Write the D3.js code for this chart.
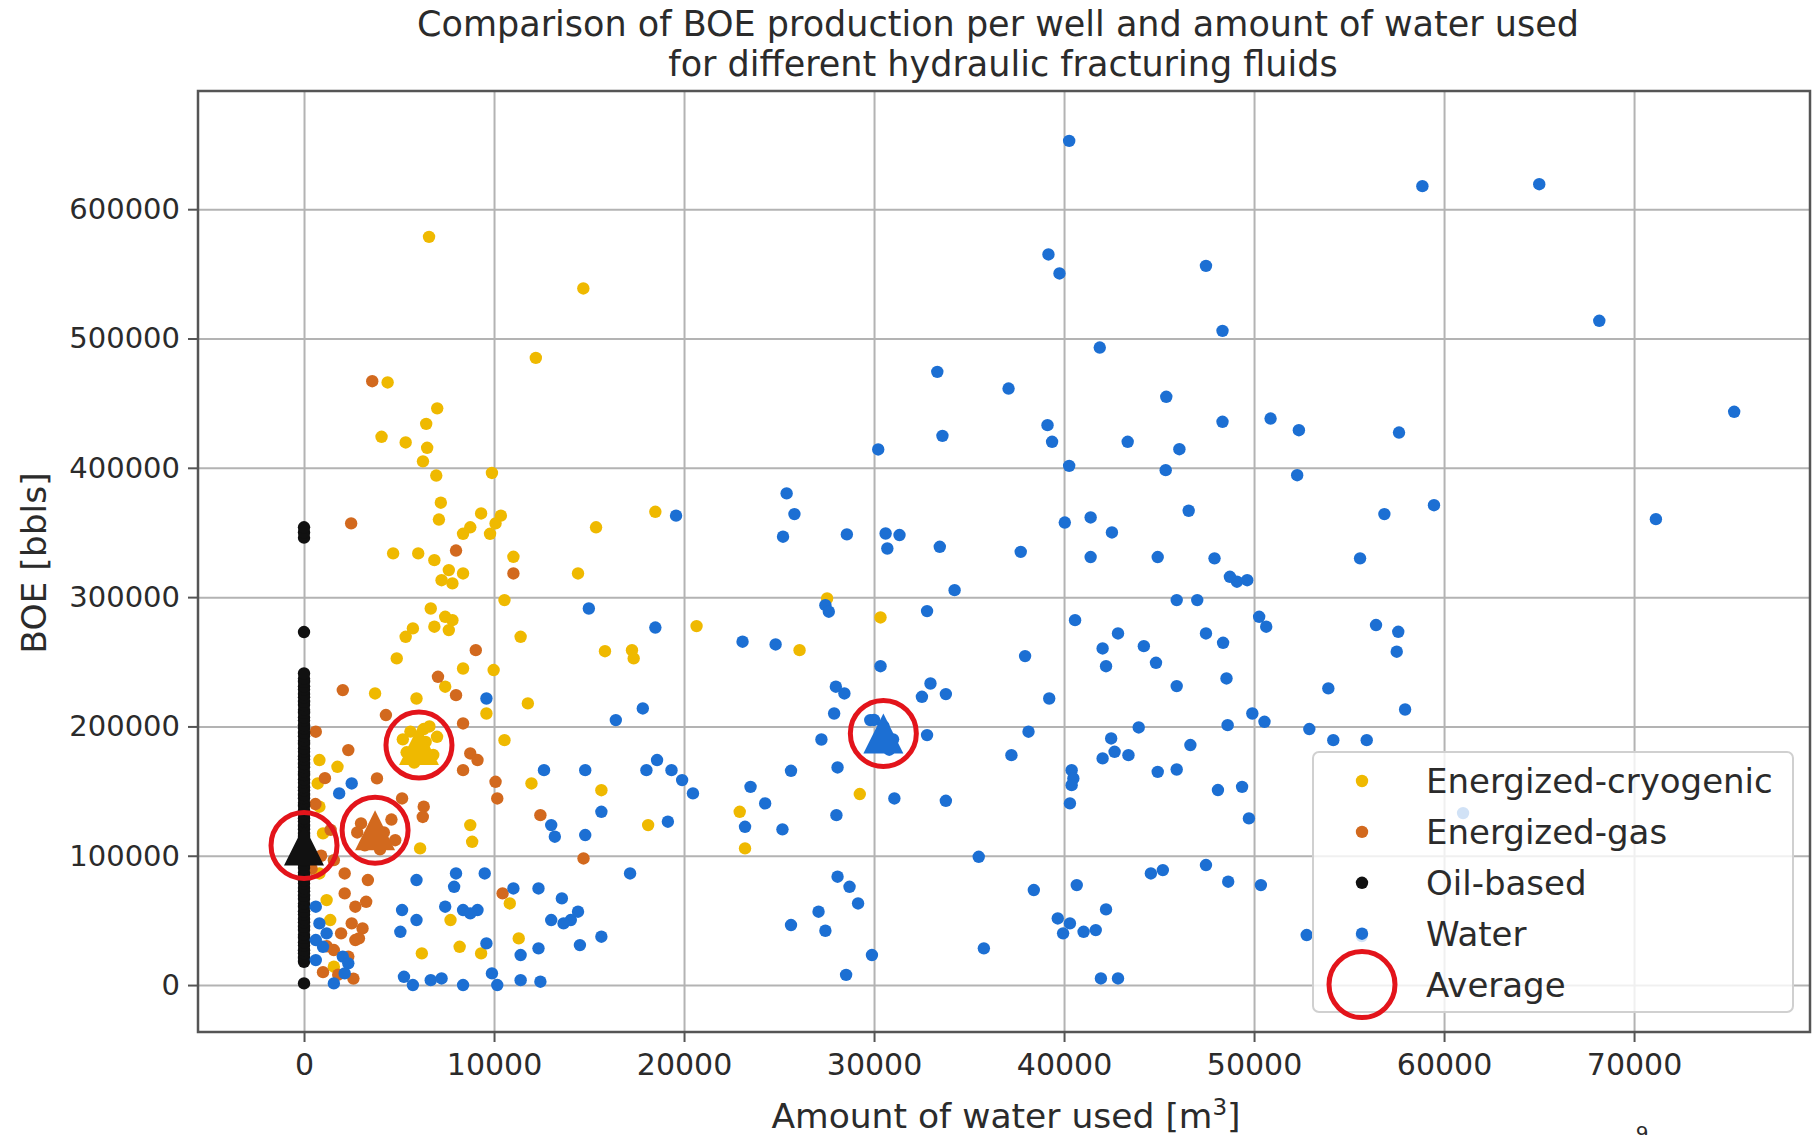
<!DOCTYPE html>
<html>
<head>
<meta charset="utf-8">
<script src="https://cdn.jsdelivr.net/npm/d3@7/dist/d3.min.js"></script>
<style>
  body { margin: 0; background: #fff; }
  text { font-family: "DejaVu Sans", sans-serif; fill: #2b2b2b; }
</style>
</head>
<body>
<div id="container"></div>
<script>
// ---- data: [water m3, BOE bbls] ----
var cryoPoints = [
  [6580,578600],[14700,538700],[12200,485000],[4400,466000],[7010,446000],[6430,434000],[4080,424000],
  [5350,419600],[6480,415500],[6260,405000],[6960,394000],[9890,396000],[7200,373000],[7100,360000],
  [9320,364700],[10360,363000],[8750,354000],[9790,349000],[8370,349000],[10080,357000],[15370,354000],
  [18490,366000],[4690,333800],[6010,333800],[6860,328600],[7620,320900],[8370,318300],[7240,313100],
  [7810,310600],[11020,331200],[10550,297700],[14420,318300],[20660,277600],[15840,258200],[17260,259000],
  [17350,252600],[6670,291200],[7430,284800],[6860,277100],[5730,275800],[5350,269300],[7620,274500],
  [7810,282200],[4880,252600],[11400,269300],[8370,244800],[9980,243600],[3740,225500],[5920,221600],
  [7430,230700],[9600,210000],[11780,217800],[10550,189400],[810,174000],[1760,168800],[11970,155900],
  [15650,150700],[18110,123700],[8750,123700],[8850,110800],[6110,105700],[22930,134000],[23210,105700],
  [7710,50300],[10830,63100],[9320,24500],[11300,36100],[6200,24500],[8190,29600],[720,155900],
  [810,137900],[1000,117300],[810,86300],[1190,65700],[1380,50300],[1570,14200],
  [5200,190000],[5600,196000],[6000,182000],[6400,188000],[6800,178000],[5800,172000],[6300,198000],
  [7000,192000],[5400,180000],[6600,200000],
  [27530,299000],[30340,284300],[26080,259000],[29250,147700]
];

var gasPoints = [
  [3590,467000],[2480,357000],[8000,336000],[11020,318300],[9040,259000],[7050,238400],[2040,228100],
  [8000,224200],[8370,202300],[4310,208800],[620,195900],[2330,181700],[8750,179100],[9130,174000],
  [8370,166200],[3840,159800],[10080,157200],[10170,144300],[12440,131400],[6300,137900],[6250,130000],
  [5160,144300],[14710,97900],[3360,81200],[2140,70900],[2700,60600],[3270,64400],[2510,47700],
  [3080,43800],[1950,40000],[2700,34800],[1570,27100],[2330,22000],[2890,36100],[10450,70900],
  [2140,86300],[1570,96600],
  [3000,125000],[3500,112000],[4200,118000],[4600,128000],[3200,108000],[4000,105000],[2800,118000],
  [4800,112000],[1200,30000],[1000,10000],[1800,8000],[2600,5000],[400,90000],[900,100000],
  [1400,120000],[600,140000],[1100,160000]
];

var oilPoints = [
  [0,1300],[0,18000],[0,21000],[0,24500],[0,27000],[0,30500],[0,33000],[0,36500],[0,39000],[0,42500],
  [0,45000],[0,48500],[0,51000],[0,54500],[0,57000],[0,60500],[0,63000],[0,66500],[0,69000],[0,72500],
  [0,75000],[0,78500],[0,81000],[0,84500],[0,87000],[0,90500],[0,93000],[0,96500],[0,99000],[0,102500],
  [0,105000],[0,108500],[0,111000],[0,114500],[0,117000],[0,120500],[0,123000],[0,126500],[0,129000],
  [0,132500],[0,135000],[0,138500],[0,141000],[0,144500],[0,147000],[0,150500],[0,153000],[0,156500],
  [0,159000],[0,162500],[0,165000],[0,168500],[0,171000],[0,174500],[0,177000],[0,180500],[0,183000],
  [0,186500],[0,189000],[0,192500],[0,195000],[0,198500],[0,201000],[0,204500],[0,207000],[0,210500],
  [0,213000],[0,216500],[0,219000],[0,222500],[0,225000],[0,228500],[0,231000],[0,234500],[0,237000],
  [0,241000],[0,273000],[0,346000],[0,350000],[0,354000]
];

var waterPoints = [
  [40270,652800],[39180,565000],[39760,550300],[47470,556200],[48340,505900],[41880,493000],[33330,474200],
  [37080,461300],[45380,454900],[39130,433000],[39370,420100],[33600,424700],[30220,414200],[43350,420100],
  [46070,414400],[48340,435600],[50870,438100],[52360,429100],[40270,401500],[45350,398200],[52270,394300],
  [25400,380200],[25810,364200],[25210,346700],[28570,348500],[30610,349200],[31340,348000],[30700,337600],
  [33460,338900],[37720,335000],[40040,357700],[41400,361600],[42520,350000],[46560,366800],[44930,331000],
  [41400,331000],[47920,330000],
  [58860,617800],[65010,619300],[68170,513700],[57630,427300],[75270,443300],[56860,364200],[59470,371100],
  [71150,360300],[55580,330000],[19580,363000],
  [14990,291200],[18490,276500],[23080,265500],[9600,221600],[17830,213900],[16410,204900],[12630,166200],
  [14800,166200],[18020,166200],[18580,174000],[19340,166200],[19900,158500],[20470,148200],[23500,153300],
  [23210,122400],[2510,155900],[1850,148200],[13010,123700],[13200,114700],[15650,134000],[14800,116000],
  [19150,126300],[17160,86300],[5920,81200],[8000,86300],[7900,76000],[9510,86300],[620,60600],[810,47700],
  [620,34800],[1000,29600],[2040,22000],[2330,16800],[2140,9000],[1570,1300],[620,19300],[1190,40000],
  [5160,58000],[5920,50300],[5070,41200],[7430,60600],[8370,58000],[9130,58000],[8750,55400],[11020,74700],
  [12340,74700],[13570,67000],[13010,50300],[14040,50300],[14420,56700],[13660,47700],[15650,37400],
  [14520,30900],[9600,32200],[11400,23200],[12340,28400],[5260,6400],[5730,0],[6670,3800],[7240,5100],
  [8370,0],[9890,9000],[10170,0],[11400,3800],[12440,2600],
  [49100,311900],[48730,315700],[49640,313100],[27440,293800],[27620,288700],[32790,289200],[34240,305400],
  [40580,282200],[42840,271900],[42030,260300],[42210,246600],[44200,262100],[44840,249200],[45930,297700],
  [47010,297700],[47470,271900],[48370,264700],[45930,231200],[48550,237100],[50270,284800],[50640,277100],
  [24820,263400],[37950,254400],[30340,246600],[27990,230700],[28440,225500],[32970,233200],[32520,222900],
  [33780,225000],[39220,221600],[27900,210000],[27230,189900],[32790,193300],[29800,204900],[38130,195900],
  [37230,177800],[42480,190700],[43930,199200],[42030,175300],[42660,180400],[43390,177800],[46650,185600],
  [44930,164900],[45930,166700],[48610,201000],[49910,210000],[50550,203600],[40400,166200],[40490,159800],
  [40400,154600],[40310,140500],[48100,150800],[49370,153300],[49730,128900],[28080,168300],[25630,165700],
  [24270,140500],[31070,144300],[33780,142500],[28020,131400],[25180,120400],[35510,99200],[28080,83800],
  [28710,76000],[29160,63100],[27080,56700],[27440,42000],[25630,46400],[38410,73500],[40670,77300],
  [44570,86300],[45200,88900],[47470,92800],[48640,79900],[50360,77300],[42210,58500],[39670,51500],
  [40310,47700],[39950,40000],[41030,41200],[41670,42500],[35780,28400],[29890,23200],[28530,7900],
  [41940,5100],[42840,5100],
  [30000,205000],[30500,200000],[31000,190000],[30300,185000],[30800,182000],
  [56420,278400],[57590,273200],[57510,257800],[53910,229400],[57950,213100],[52910,198000],[54170,189400],
  [55930,189400],[52770,38700],[55670,37900],[61000,133000]
];

// averages per fluid, same order as the legend
var fluidNames = ["Energized-cryogenic", "Energized-gas", "Oil-based", "Water"];
var avgWater = [6050, 3740, 0, 30490];
var avgBoe = [185600, 119800, 108000, 194600];

var xTicks = [0, 10000, 20000, 30000, 40000, 50000, 60000, 70000];
var yTicks = [0, 100000, 200000, 300000, 400000, 500000, 600000];

var fluidColors = ["#efb900", "#d2691e", "#111111", "#1c6fd3"];
var avgColor = "#e3141b";

// ---- chart ----
var width = 1813, height = 1135;
var plotL = 198, plotR = 1810, plotT = 91, plotB = 1032;

var svg = d3.select("div#container").append("svg")
  .attr("width", width)
  .attr("height", height);

var x = d3.scaleLinear().domain([-5580, 79260]).range([plotL, plotR]);
var y = d3.scaleLinear().domain([-36300, 691400]).range([plotB, plotT]);

// grid
svg.append("g")
  .attr("transform", "translate(0," + plotB + ")")
  .call(d3.axisBottom(x).tickValues(xTicks).tickSize(-(plotB - plotT)).tickFormat(""))
  .call(g => g.select(".domain").remove())
  .selectAll("line").attr("stroke", "#b3b3b3").attr("stroke-width", 2);
svg.append("g")
  .attr("transform", "translate(" + plotL + ",0)")
  .call(d3.axisLeft(y).tickValues(yTicks).tickSize(-(plotR - plotL)).tickFormat(""))
  .call(g => g.select(".domain").remove())
  .selectAll("line").attr("stroke", "#b3b3b3").attr("stroke-width", 2);

// scatter groups
var seriesData = [cryoPoints, gasPoints, oilPoints, waterPoints];
seriesData.forEach(function(pts, i) {
  svg.append("g").selectAll("circle")
    .data(pts)
    .enter().append("circle")
      .attr("cx", d => x(d[0]))
      .attr("cy", d => y(d[1]))
      .attr("r", 6.2)
      .attr("fill", fluidColors[i]);
});

// average markers: triangle in the fluid colour + red ring
var tri = "M0,-20L20,20L-20,20Z";
svg.append("g").selectAll("path")
  .data(d3.range(fluidNames.length))
  .enter().append("path")
    .attr("d", tri)
    .attr("transform", i => "translate(" + x(avgWater[i]) + "," + y(avgBoe[i]) + ")")
    .attr("fill", i => fluidColors[i]);
svg.append("g").selectAll("circle")
  .data(d3.range(fluidNames.length))
  .enter().append("circle")
    .attr("cx", i => x(avgWater[i]))
    .attr("cy", i => y(avgBoe[i]))
    .attr("r", 33)
    .attr("fill", "none")
    .attr("stroke", avgColor)
    .attr("stroke-width", 5);

// frame
svg.append("rect")
  .attr("x", plotL).attr("y", plotT)
  .attr("width", plotR - plotL).attr("height", plotB - plotT)
  .attr("fill", "none").attr("stroke", "#555").attr("stroke-width", 2.5);

// axes
var xAxis = svg.append("g")
  .attr("transform", "translate(0," + plotB + ")")
  .call(d3.axisBottom(x).tickValues(xTicks).tickSize(10).tickPadding(12).tickFormat(d3.format("d")));
xAxis.select(".domain").remove();
xAxis.selectAll("line").attr("stroke", "#555").attr("stroke-width", 2);
xAxis.selectAll("text").style("font-size", "30px").attr("fill", "#2b2b2b");

var yAxis = svg.append("g")
  .attr("transform", "translate(" + plotL + ",0)")
  .call(d3.axisLeft(y).tickValues(yTicks).tickSize(10).tickPadding(8).tickFormat(d3.format("d")));
yAxis.select(".domain").remove();
yAxis.selectAll("line").attr("stroke", "#555").attr("stroke-width", 2);
yAxis.selectAll("text").style("font-size", "29px").attr("fill", "#2b2b2b");

// titles
svg.append("text").attr("x", 998).attr("y", 36).attr("text-anchor", "middle")
  .style("font-size", "35px")
  .text("Comparison of BOE production per well and amount of water used");
svg.append("text").attr("x", 1003).attr("y", 76).attr("text-anchor", "middle")
  .style("font-size", "35px")
  .text("for different hydraulic fracturing fluids");

var xl = svg.append("text").attr("x", 1006).attr("y", 1128).attr("text-anchor", "middle")
  .style("font-size", "34.5px");
xl.append("tspan").text("Amount of water used [m");
xl.append("tspan").attr("dy", -13).style("font-size", "23px").text("3");
xl.append("tspan").attr("dy", 13).text("]");

svg.append("text")
  .attr("transform", "translate(46,563) rotate(-90)")
  .attr("text-anchor", "middle")
  .style("font-size", "34.5px")
  .text("BOE [bbls]");

// legend
var legend = svg.append("g");
legend.append("rect")
  .attr("x", 1313).attr("y", 752).attr("width", 480).attr("height", 260).attr("rx", 6)
  .attr("fill", "#fff").attr("fill-opacity", 0.8)
  .attr("stroke", "#d0d0d0").attr("stroke-width", 2);
var legendLabels = fluidNames.concat(["Average"]);
legendLabels.forEach(function(name, i) {
  var cy = 781 + i * 50.9;
  if (i < fluidNames.length) {
    legend.append("circle").attr("cx", 1362).attr("cy", cy).attr("r", 6.2).attr("fill", fluidColors[i]);
  } else {
    legend.append("circle").attr("cx", 1362).attr("cy", cy).attr("r", 33)
      .attr("fill", "none").attr("stroke", avgColor).attr("stroke-width", 5);
  }
  legend.append("text").attr("x", 1426).attr("y", cy + 12)
    .style("font-size", "34px").text(name);
});

// slide number, cut at the bottom edge
svg.append("text").attr("x", 1642).attr("y", 1140).attr("text-anchor", "middle")
  .style("font-size", "20px").attr("fill", "#555").text("9");
</script>
</body>
</html>
